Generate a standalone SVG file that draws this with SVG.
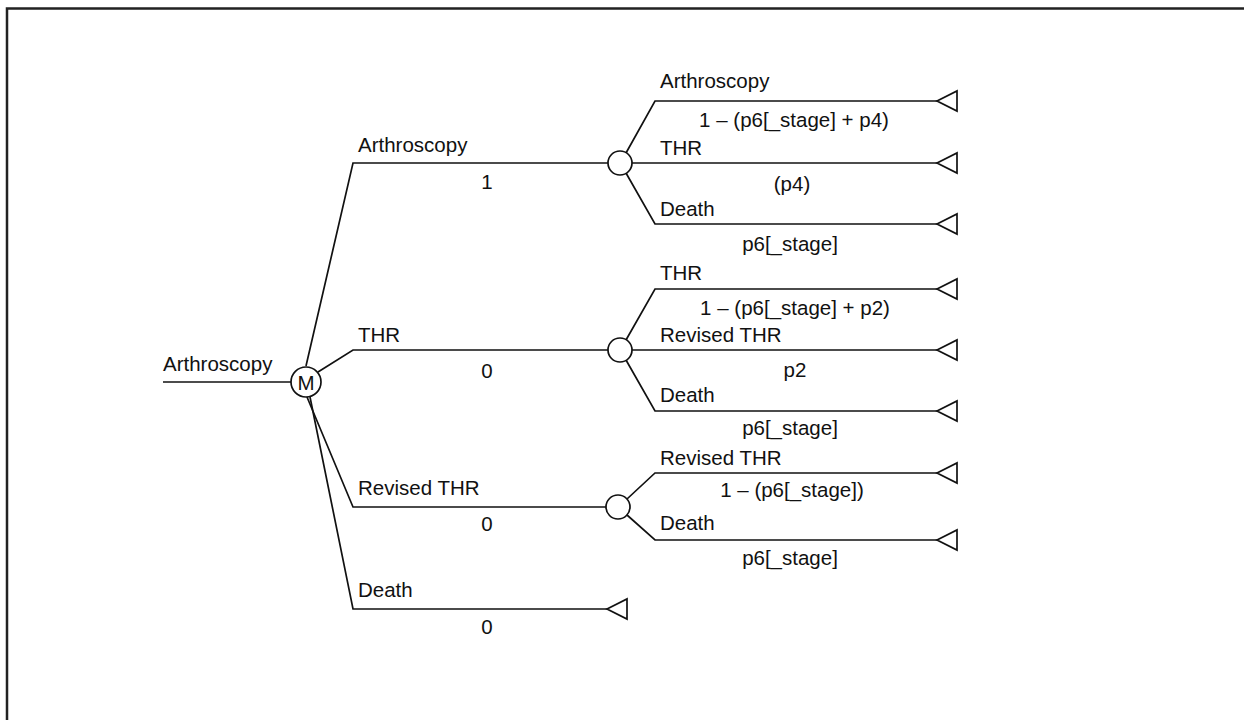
<svg xmlns="http://www.w3.org/2000/svg" width="1244" height="720" viewBox="0 0 1244 720">
<defs>
<style>
.t{font-family:"Liberation Sans",Arial,sans-serif;font-size:20.5px;fill:#111}
.m{text-anchor:middle}
.ln{fill:none;stroke:#111;stroke-width:1.7}
.nd{fill:#fff;stroke:#111;stroke-width:1.7}
</style>
<polygon id="term" points="0,0 20,-10 20,10" fill="#fff" stroke="#111" stroke-width="1.7"/>
</defs>
<rect x="7" y="8.5" width="1300" height="800" fill="#fff" stroke="#222" stroke-width="2.5"/>
<g id="connectors" class="ln">
<path d="M163,382 H291"/>
<path d="M306,366 L353,163 H608"/>
<path d="M318,372 L353,350 H608"/>
<path d="M307,397 L353,507 H606"/>
<path d="M310,397 L353,609 H607"/>
<path d="M626,153 L655,101 H937"/>
<path d="M632,163 H937"/>
<path d="M626,173 L655,224 H937"/>
<path d="M626,340 L655,289 H937"/>
<path d="M632,350 H937"/>
<path d="M626,360 L655,411 H937"/>
<path d="M627,499 L655,473 H937"/>
<path d="M627,515 L655,540 H937"/>
</g>
<g id="root"><text class="t" x="163" y="371">Arthroscopy</text></g>
<g id="markov"><circle class="nd" cx="306" cy="382" r="15"/><text class="t m" x="306" y="389.5">M</text></g>
<g id="b-arthroscopy"><text class="t" x="358" y="152">Arthroscopy</text><text class="t m" x="487" y="189">1</text></g>
<g id="b-thr"><text class="t" x="358" y="342">THR</text><text class="t m" x="487" y="378">0</text></g>
<g id="b-revised"><text class="t" x="358" y="495">Revised THR</text><text class="t m" x="487" y="531">0</text></g>
<g id="b-death"><text class="t" x="358" y="597">Death</text><text class="t m" x="487" y="634">0</text><use href="#term" x="607" y="609"/></g>
<g id="chance1"><circle class="nd" cx="620" cy="163" r="12"/></g>
<g id="c1-arthroscopy"><text class="t" x="660" y="88">Arthroscopy</text><text class="t m" x="794" y="127">1 – (p6[_stage] + p4)</text><use href="#term" x="937" y="101"/></g>
<g id="c1-thr"><text class="t" x="660" y="155">THR</text><text class="t m" x="792" y="191">(p4)</text><use href="#term" x="937" y="163"/></g>
<g id="c1-death"><text class="t" x="660" y="216">Death</text><text class="t m" x="790" y="251">p6[_stage]</text><use href="#term" x="937" y="224"/></g>
<g id="chance2"><circle class="nd" cx="620" cy="350" r="12"/></g>
<g id="c2-thr"><text class="t" x="660" y="280">THR</text><text class="t m" x="795" y="315">1 – (p6[_stage] + p2)</text><use href="#term" x="937" y="289"/></g>
<g id="c2-revised"><text class="t" x="660" y="342">Revised THR</text><text class="t m" x="795" y="377">p2</text><use href="#term" x="937" y="350"/></g>
<g id="c2-death"><text class="t" x="660" y="402">Death</text><text class="t m" x="790" y="435">p6[_stage]</text><use href="#term" x="937" y="411"/></g>
<g id="chance3"><circle class="nd" cx="618" cy="507" r="12"/></g>
<g id="c3-revised"><text class="t" x="660" y="465">Revised THR</text><text class="t m" x="792" y="497">1 – (p6[_stage])</text><use href="#term" x="937" y="473"/></g>
<g id="c3-death"><text class="t" x="660" y="530">Death</text><text class="t m" x="790" y="565">p6[_stage]</text><use href="#term" x="937" y="540"/></g>
</svg>
